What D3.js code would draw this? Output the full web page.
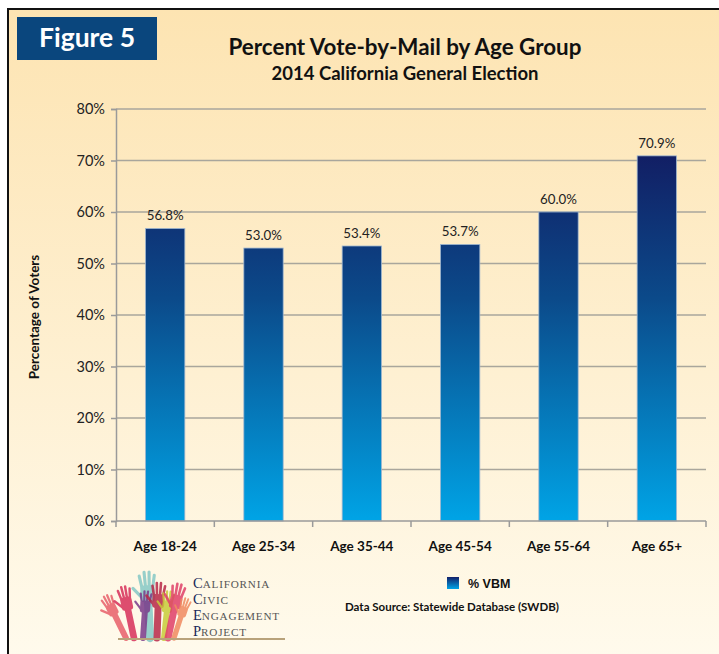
<!DOCTYPE html>
<html><head><meta charset="utf-8">
<script src="https://cdn.jsdelivr.net/npm/d3@7/dist/d3.min.js"></script>
<style>html,body{margin:0;padding:0;background:#fff;}svg{display:block;}</style>
</head><body>
<script>
const categories = ["Age 18-24","Age 25-34","Age 35-44","Age 45-54","Age 55-64","Age 65+"];
const vbmValues = [56.8, 53.0, 53.4, 53.7, 60.0, 70.9];
const valueLabels = ["56.8%","53.0%","53.4%","53.7%","60.0%","70.9%"];
const yTicks = [0,10,20,30,40,50,60,70,80];
const seriesName = "% VBM";

const W = 719, H = 654;
const svg = d3.select("body").append("svg").attr("width", W).attr("height", H);
const defs = svg.append("defs");

const bg = defs.append("linearGradient").attr("id","bg").attr("x1",0).attr("y1",0).attr("x2",0).attr("y2",1);
bg.append("stop").attr("offset","0%").attr("stop-color","#fde4b2");
bg.append("stop").attr("offset","55%").attr("stop-color","#fef0d2");
bg.append("stop").attr("offset","100%").attr("stop-color","#fffbee");

svg.append("rect").attr("x",0).attr("y",0).attr("width",W).attr("height",H).attr("fill","#ffffff");
svg.append("rect").attr("x",8).attr("y",9).attr("width",W+10).attr("height",H+10)
  .attr("fill","url(#bg)").attr("stroke","#111").attr("stroke-width",2);

// Figure badge
svg.append("rect").attr("x",17).attr("y",17).attr("width",140).attr("height",43).attr("fill","#0a467d");
svg.append("text").attr("x",87).attr("y",47).attr("text-anchor","middle")
  .attr("font-family","Lato, 'Open Sans', sans-serif").attr("font-weight","bold").attr("font-size",26.5)
  .attr("fill","#fff").text("Figure 5");

// Titles
svg.append("text").attr("x",405).attr("y",55).attr("text-anchor","middle")
  .attr("font-family","Lato, sans-serif").attr("font-weight","bold").attr("font-size",22.4)
  .attr("fill","#111").text("Percent Vote-by-Mail by Age Group");
svg.append("text").attr("x",405).attr("y",80).attr("text-anchor","middle")
  .attr("font-family","Lato, sans-serif").attr("font-weight","bold").attr("font-size",18.5)
  .attr("fill","#111").text("2014 California General Election");

// Scales
const x = d3.scaleBand().domain(categories).range([116,706]).paddingInner(0.6).paddingOuter(0.3);
const y = d3.scaleLinear().domain([0,80]).range([521,109]);

// bar gradient in user space
const bg2 = defs.append("linearGradient").attr("id","barGrad").attr("gradientUnits","userSpaceOnUse")
  .attr("x1",0).attr("x2",0).attr("y1",y(72)).attr("y2",y(0));
bg2.append("stop").attr("offset","0%").attr("stop-color","#121d63");
bg2.append("stop").attr("offset","40%").attr("stop-color","#0b4a8a");
bg2.append("stop").attr("offset","100%").attr("stop-color","#00a4e6");

// gridlines
svg.append("g").selectAll("line").data(yTicks.filter(d=>d>0)).join("line")
  .attr("x1",116).attr("x2",706).attr("y1",d=>y(d)).attr("y2",d=>y(d))
  .attr("stroke","#a9a69c").attr("stroke-width",1.5);

// y axis
const yAxis = d3.axisLeft(y).tickValues(yTicks).tickFormat(d=>d+"%").tickSize(5).tickPadding(6);
const gy = svg.append("g").attr("transform","translate(116,0)").call(yAxis);
gy.select(".domain").attr("stroke","#9a9a9a").attr("stroke-width",1.5);
gy.selectAll(".tick line").attr("stroke","#9a9a9a").attr("stroke-width",1.5);
gy.selectAll(".tick text").attr("font-family","Lato, sans-serif").attr("font-size",14.5).attr("fill","#222");

// bars
svg.append("g").selectAll("rect").data(vbmValues).join("rect")
  .attr("x",(d,i)=>x(categories[i])).attr("width",x.bandwidth())
  .attr("y",d=>y(d)).attr("height",d=>y(0)-y(d))
  .attr("fill","url(#barGrad)").attr("stroke","#9fb6cf").attr("stroke-width",0.8);

// value labels
svg.append("g").selectAll("text").data(vbmValues).join("text")
  .attr("x",(d,i)=>x(categories[i])+x.bandwidth()/2).attr("y",d=>y(d)-8)
  .attr("text-anchor","middle").attr("font-family","Lato, sans-serif").attr("font-size",13.3)
  .attr("fill","#222").text((d,i)=>valueLabels[i]);

// x axis
const xb = d3.scaleLinear().domain([0,categories.length]).range([116,706]);
const gx = svg.append("g");
gx.append("line").attr("x1",116).attr("x2",706).attr("y1",y(0)).attr("y2",y(0))
  .attr("stroke","#9a9a9a").attr("stroke-width",1.5);
gx.selectAll("line.t").data(d3.range(categories.length+1)).join("line").attr("class","t")
  .attr("x1",d=>xb(d)).attr("x2",d=>xb(d)).attr("y1",y(0)).attr("y2",y(0)+6)
  .attr("stroke","#9a9a9a").attr("stroke-width",1.5);
gx.selectAll("text").data(categories).join("text")
  .attr("x",d=>x(d)+x.bandwidth()/2).attr("y",551).attr("text-anchor","middle")
  .attr("font-family","Lato, sans-serif").attr("font-weight","bold").attr("font-size",13.5)
  .attr("fill","#111").text(d=>d);

// y title
svg.append("text").attr("transform","translate(39,317) rotate(-90)").attr("text-anchor","middle")
  .attr("font-family","Lato, sans-serif").attr("font-weight","bold").attr("font-size",13.5)
  .attr("fill","#111").text("Percentage of Voters");

// legend
const lg = defs.append("linearGradient").attr("id","legGrad").attr("x1",0).attr("x2",0).attr("y1",0).attr("y2",1);
lg.append("stop").attr("offset","0%").attr("stop-color","#12206a");
lg.append("stop").attr("offset","100%").attr("stop-color","#00a4e6");
svg.append("rect").attr("x",447).attr("y",577).attr("width",12).attr("height",12).attr("fill","url(#legGrad)");
svg.append("text").attr("x",468).attr("y",588).attr("font-family","'Liberation Sans', Arial, sans-serif")
  .attr("font-weight","bold").attr("font-size",12.5).attr("fill","#111").text(seriesName);

// data source
svg.append("text").attr("x",345).attr("y",611).attr("font-family","Lato, sans-serif")
  .attr("font-weight","bold").attr("font-size",11.5).attr("fill","#111").text("Data Source: Statewide Database (SWDB)");

// logo: hands
const logo = svg.append("g");
const hands = [
  {x:126,a:-26,s:0.85,c:"#e8606a"},
  {x:134,a:-12,s:0.95,c:"#d8305a"},
  {x:150,a:-3,s:1.2,c:"#86c9c6"},
  {x:143,a:4,s:0.85,c:"#7a3a8a"},
  {x:157,a:2,s:1.0,c:"#b82848"},
  {x:164,a:6,s:0.85,c:"#c8cc3a"},
  {x:168,a:12,s:1.0,c:"#e04068"},
  {x:174,a:18,s:0.75,c:"#f08a60"}
];
hands.forEach(h=>{
  const g = logo.append("g").attr("transform",`translate(${h.x},638) rotate(${h.a}) scale(${h.s})`)
    .attr("stroke",h.c).attr("stroke-linecap","round").attr("fill",h.c).attr("opacity",0.85);
  g.append("line").attr("x1",0).attr("y1",0).attr("x2",0).attr("y2",-30).attr("stroke-width",7);
  g.append("rect").attr("x",-6).attr("y",-44).attr("width",12).attr("height",14).attr("rx",3).attr("stroke","none");
  [[-4.5,-10],[-1.5,-13],[1.5,-13],[4.5,-10]].forEach(f=>{
    g.append("line").attr("x1",f[0]).attr("y1",-42).attr("x2",f[0]*1.4).attr("y2",-42+f[1]).attr("stroke-width",2.6);
  });
  g.append("line").attr("x1",-5).attr("y1",-34).attr("x2",-12).attr("y2",-42).attr("stroke-width",2.6);
});
svg.append("line").attr("x1",118).attr("x2",285).attr("y1",639).attr("y2",639).attr("stroke","#b8a27a").attr("stroke-width",2);

const logoLines = [["C","ALIFORNIA"],["C","IVIC"],["E","NGAGEMENT"],["P","ROJECT"]];
logoLines.forEach((l,i)=>{
  const t = svg.append("text").attr("x",193).attr("y",588+i*16)
    .attr("font-family","'Liberation Serif', 'DejaVu Serif', serif").attr("fill","#555");
  t.append("tspan").attr("font-size",14.5).attr("fill","#1a2a5a").text(l[0]);
  t.append("tspan").attr("font-size",11.2).attr("letter-spacing",0.8).text(l[1]);
});
</script>
</body></html>
